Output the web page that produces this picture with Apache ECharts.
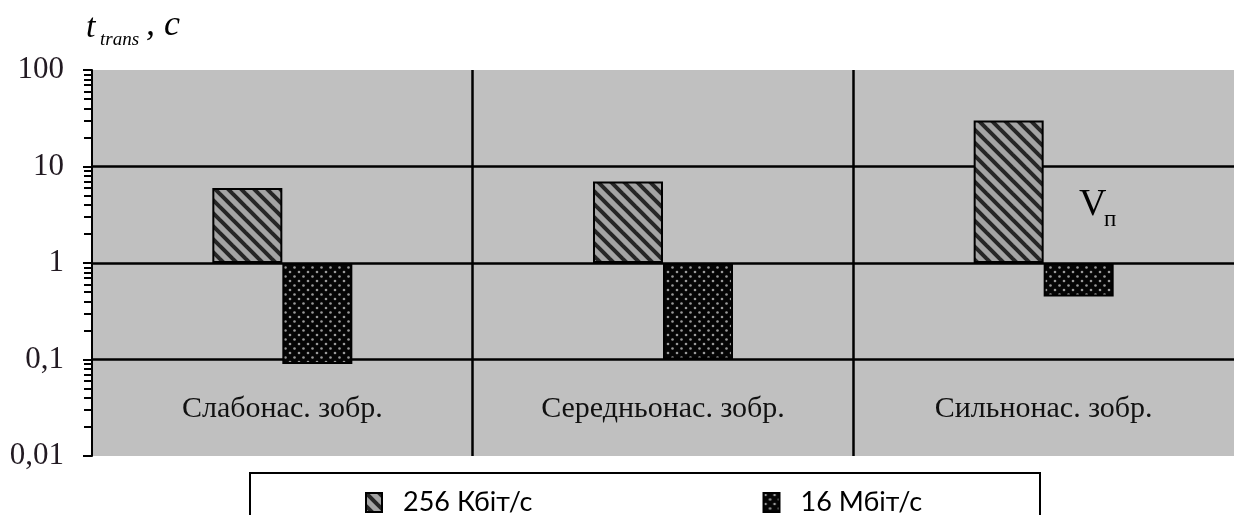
<!DOCTYPE html>
<html>
<head>
<meta charset="utf-8">
<script src="https://cdn.jsdelivr.net/npm/echarts@6/dist/echarts.min.js"></script>
<style>
  html, body { margin: 0; padding: 0; background: #fff; }
  #chart { width: 1239px; height: 515px; }
</style>
</head>
<body>
<div id="chart"></div>
<script>
// Transfer time by image type and channel speed (log scale, bars grow from 1 s)
const categories = ['Слабонас. зобр.', 'Середньонас. зобр.', 'Сильнонас. зобр.'];
const seriesNames = ['256 Кбіт/с', '16 Мбіт/с'];
const rate256k = [6, 7, 30];
const rate16m = [0.09, 0.1, 0.45];
const majorTicks = [0.01, 0.1, 1, 10, 100];
const minorTicks = [
  0.02, 0.03, 0.04, 0.05, 0.06, 0.07, 0.08, 0.09,
  0.2, 0.3, 0.4, 0.5, 0.6, 0.7, 0.8, 0.9,
  2, 3, 4, 5, 6, 7, 8, 9,
  20, 30, 40, 50, 60, 70, 80, 90
];

// Diagonal hatch fill
function hatchPattern() {
  const s = 13;
  const c = document.createElement('canvas');
  c.width = s; c.height = s;
  const g = c.getContext('2d');
  g.fillStyle = '#a4a4a4';
  g.fillRect(0, 0, s, s);
  g.strokeStyle = '#262626';
  g.lineWidth = 4;
  for (let k = -1; k <= 1; k++) {
    g.beginPath();
    g.moveTo(k * s - 2, -2);
    g.lineTo(k * s + s + 2, s + 2);
    g.stroke();
  }
  return c;
}

// Dark fill with staggered light dots
function dotPattern() {
  const w = 9, h = 9;
  const c = document.createElement('canvas');
  c.width = w; c.height = h;
  const g = c.getContext('2d');
  g.fillStyle = '#050505';
  g.fillRect(0, 0, w, h);
  g.fillStyle = '#9a9a9a';
  [[2, 2], [6.5, 6.5]].forEach(([x, y]) => {
    g.beginPath();
    g.arc(x, y, 1.3, 0, Math.PI * 2);
    g.fill();
  });
  return c;
}

const chart = echarts.init(document.getElementById('chart'), null, { renderer: 'canvas' });

const serif = '"Liberation Serif", "Times New Roman", serif';
const sans = 'Lato, "Liberation Sans", sans-serif';

const option = {
  animation: false,
  backgroundColor: '#ffffff',
  grid: {
    left: 92, right: 5, top: 70, bottom: 59,
    show: true, backgroundColor: '#c0c0c0', borderWidth: 0
  },
  xAxis: {
    type: 'category',
    data: categories,
    axisLine: { show: false },
    axisTick: { show: false },
    axisLabel: {
      inside: true, margin: 32,
      fontFamily: serif, fontSize: 30, color: '#111'
    },
    splitLine: {
      show: true, showMinLine: false, showMaxLine: false,
      lineStyle: { color: '#000', width: 2.5 }
    }
  },
  yAxis: [
    {
      type: 'log', logBase: 10, min: 0.01, max: 100,
      axisLine: { show: true, lineStyle: { color: '#000', width: 2 } },
      axisTick: { show: true, length: 9, customValues: majorTicks, lineStyle: { color: '#000', width: 2 } },
      axisLabel: {
        customValues: majorTicks,
        margin: 28,
        fontFamily: serif, fontSize: 31, color: '#221a22',
        formatter: v => String(v).replace('.', ',')
      },
      splitLine: {
        show: true, showMinLine: false, showMaxLine: false,
        lineStyle: { color: '#000', width: 2.5 }
      }
    },
    {
      type: 'log', logBase: 10, min: 0.01, max: 100,
      position: 'left',
      axisLine: { show: false },
      axisTick: { show: true, length: 8, customValues: minorTicks, lineStyle: { color: '#000', width: 2 } },
      axisLabel: { show: false },
      splitLine: { show: false }
    }
  ],
  legend: {
    left: 360, top: 484,
    itemWidth: 16, itemHeight: 19, itemGap: 230,
    icon: 'rect',
    textStyle: { fontFamily: sans, fontSize: 27, color: '#000', padding: [0, 0, 0, 16] },
    data: seriesNames
  },
  series: [
    {
      name: seriesNames[0], type: 'bar', data: rate256k,
      barWidth: 70, barGap: '0%',
      itemStyle: { color: { image: hatchPattern(), repeat: 'repeat' }, borderColor: '#000', borderWidth: 2 }
    },
    {
      name: seriesNames[1], type: 'bar', data: rate16m,
      barWidth: 70, barGap: '0%',
      itemStyle: { color: { image: dotPattern(), repeat: 'repeat' }, borderColor: '#000', borderWidth: 2 }
    }
  ],
  graphic: [
    { type: 'rect', z: -1, shape: { x: 250, y: 473, width: 790, height: 70 },
      style: { fill: '#fff', stroke: '#000', lineWidth: 2 } },
    { type: 'text', left: 86, top: 11,
      style: { text: 't', font: 'italic 34px ' + serif, fill: '#000' } },
    { type: 'text', left: 100, top: 30,
      style: { text: 'trans', font: 'italic 19px ' + serif, fill: '#000' } },
    { type: 'text', left: 146, top: 8,
      style: { text: ', c', font: 'italic 36px ' + serif, fill: '#000' } },
    { type: 'text', left: 1079, top: 186,
      style: { text: 'V', font: '38px ' + serif, fill: '#000' } },
    { type: 'text', left: 1104, top: 208,
      style: { text: 'п', font: '23px ' + serif, fill: '#000' } }
  ]
};

chart.setOption(option);
</script>
</body>
</html>
